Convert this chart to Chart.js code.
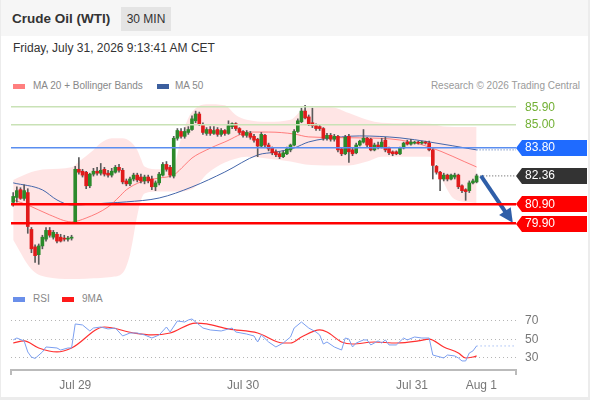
<!DOCTYPE html>
<html>
<head>
<meta charset="utf-8">
<title>Crude Oil (WTI) 30 MIN</title>
<script src="https://cdn.jsdelivr.net/npm/chart.js@4.4.1/dist/chart.umd.min.js"></script>
<style>
  html, body { margin: 0; padding: 0; }
  body { width: 590px; height: 400px; background: #ececec; position: relative; overflow: hidden;
         font-family: "Liberation Sans", Arial, sans-serif; }
  .card { position: absolute; left: 1px; top: 0; width: 587px; height: 397px; background: #fff; }
  .head { position: absolute; left: 1px; top: 0; width: 587px; height: 36px; background: #f6f6f6; }
  .title { position: absolute; left: 12px; top: 11px; font-size: 13.5px; font-weight: bold; color: #333; }
  .badge { position: absolute; left: 121px; top: 7px; width: 50px; height: 24px; line-height: 24px;
           text-align: center; background: #e4e4e4; font-size: 12px; color: #333; }
  .date { position: absolute; left: 13px; top: 41px; font-size: 12px; color: #333; }
  .lg { position: absolute; height: 12px; line-height: 12px; font-size: 10px; color: #888; padding-left: 20px; white-space: nowrap; }
  .lg i { position: absolute; left: 0; top: 4px; width: 12px; height: 5px; }
  .credit { position: absolute; right: 10px; top: 80px; font-size: 10px; color: #9a9a9a; }
  canvas { position: absolute; left: 0; }
</style>
</head>
<body>
<div class="card"></div>
<div class="head"></div>
<div class="title">Crude Oil (WTI)</div>
<div class="badge">30 MIN</div>
<div class="date">Friday, July 31, 2026 9:13:41 AM CET</div>

<div class="lg" style="left:13px;top:80px"><i style="background:#ff7f7f"></i>MA 20 + Bollinger Bands</div>
<div class="lg" style="left:157px;top:80px;padding-left:18px"><i style="background:#3c5f9e"></i>MA 50</div>
<div class="credit">Research © 2026 Trading Central</div>
<canvas id="price" width="590" height="187" style="top:95px"></canvas>

<div class="lg" style="left:13px;top:293px"><i style="background:#6a8fea"></i>RSI</div>
<div class="lg" style="left:62px;top:293px"><i style="background:#ff1a1a"></i>9MA</div>
<canvas id="rsi" width="590" height="93" style="top:305px"></canvas>

<script>
// x axis = bar number (30 min bars), first bar 0
var xMin = -0.6, xMax = 137.8;

// candles
var opens = [81.0, 81.25, 81.65, 81.2, 81.5, 79.6, 78.7, 78.3, 78.75, 79.1,
  79.55, 79.2, 79.35, 79.2, 79.15, 79.1, 79.15, 80.0, 82.7, 82.6,
  82.55, 81.85, 82.45, 82.6, 82.5, 82.7, 82.5, 82.4, 82.55, 82.8,
  82.65, 82.1, 81.95, 82.2, 82.4, 82.3, 82.1, 82.3, 82.2, 81.8,
  82.0, 82.4, 82.95, 82.8, 82.35, 84.3, 84.65, 84.4, 84.6, 84.75,
  85.2, 85.55, 85.0, 84.55, 84.75, 84.55, 84.75, 84.5, 84.7, 84.55,
  84.9, 85.05, 84.8, 84.65, 84.45, 84.55, 84.4, 84.25, 83.9, 84.45,
  83.95, 83.8, 83.6, 83.5, 83.35, 83.5, 83.7, 83.95, 84.65, 85.15,
  85.7, 85.4, 85.1, 84.95, 84.9, 84.8, 84.3, 84.45, 84.25, 84.4,
  83.75, 83.5, 84.4, 83.7, 83.55, 83.95, 84.1, 84.3, 84.25, 83.7,
  83.95, 83.85, 84.2, 83.8, 83.6, 83.6, 83.5, 83.8, 84.1, 84.0,
  84.05, 84.08, 84.05, 84.08, 84.05, 83.7, 82.85, 82.55, 82.2, 82.4,
  82.2, 82.3, 82.4, 81.85, 81.65, 81.6, 82.0, 82.05];
var highs = [81.5, 81.8, 81.75, 81.9, 81.7, 79.7, 78.8, 78.85, 79.3, 79.7,
  79.7, 79.55, 79.45, 79.35, 79.3, 79.25, 79.3, 82.85, 83.3, 82.7,
  82.6, 82.5, 82.75, 82.8, 83.0, 82.8, 82.65, 82.75, 82.9, 82.95,
  82.75, 82.2, 82.3, 82.5, 82.5, 82.45, 82.4, 82.4, 82.35, 82.1,
  82.55, 83.05, 83.1, 82.9, 84.4, 84.8, 84.8, 84.85, 84.9, 85.45,
  85.7, 85.65, 85.1, 84.85, 84.9, 84.9, 84.85, 84.8, 84.75, 85.2,
  85.1, 85.1, 84.85, 84.7, 84.7, 84.65, 84.5, 84.3, 84.6, 84.5,
  84.05, 83.85, 83.7, 83.6, 83.65, 83.85, 84.0, 84.75, 85.3, 85.85,
  86.0, 85.5, 85.85, 85.05, 85.0, 84.85, 84.55, 84.55, 84.5, 84.45,
  83.8, 84.45, 84.5, 83.8, 84.05, 84.2, 84.75, 84.35, 84.3, 84.05,
  84.1, 84.3, 84.35, 83.85, 83.65, 83.65, 83.85, 84.1, 84.2, 84.25,
  84.15, 84.15, 84.15, 84.15, 84.15, 83.75, 82.9, 82.6, 82.5, 82.45,
  82.45, 82.5, 82.45, 81.9, 81.7, 82.1, 82.2, 82.45];
var lows = [80.8, 81.0, 81.15, 81.1, 79.4, 78.4, 77.9, 77.8, 78.6, 79.0,
  79.2, 79.1, 78.9, 78.95, 79.0, 79.0, 79.05, 79.95, 82.45, 82.3,
  81.7, 81.75, 82.35, 82.4, 82.4, 82.35, 82.3, 82.3, 82.5, 82.55,
  81.95, 81.85, 81.85, 82.1, 82.05, 82.0, 81.95, 82.0, 81.65, 81.6,
  81.9, 82.35, 82.6, 82.3, 82.25, 84.2, 84.3, 84.3, 84.5, 84.7,
  85.1, 84.95, 84.5, 84.45, 84.45, 84.5, 84.4, 84.4, 84.45, 84.5,
  84.8, 84.7, 84.5, 84.35, 84.35, 84.25, 84.1, 83.35, 83.85, 83.85,
  83.65, 83.45, 83.35, 83.25, 83.3, 83.45, 83.6, 83.9, 84.6, 85.1,
  85.3, 84.95, 84.85, 84.7, 84.7, 84.2, 84.2, 84.15, 84.15, 83.6,
  83.4, 83.45, 83.05, 83.4, 83.5, 83.9, 84.05, 83.85, 83.65, 83.65,
  83.75, 83.8, 83.6, 83.45, 83.4, 83.45, 83.45, 83.75, 83.95, 83.95,
  84.0, 84.0, 84.0, 84.0, 83.65, 82.2, 82.45, 81.6, 82.1, 82.1,
  82.15, 82.2, 81.7, 81.5, 81.1, 81.5, 81.95, 82.0];
var closes = [81.3, 81.6, 81.2, 81.6, 79.75, 78.6, 78.25, 78.75, 79.2, 79.55,
  79.3, 79.45, 79.0, 79.0, 79.1, 79.15, 79.2, 82.7, 82.55, 82.4,
  81.85, 82.45, 82.6, 82.5, 82.65, 82.45, 82.4, 82.6, 82.8, 82.65,
  82.05, 81.95, 82.2, 82.4, 82.15, 82.1, 82.3, 82.1, 81.8, 82.0,
  82.45, 82.95, 82.7, 82.4, 84.3, 84.7, 84.4, 84.65, 84.75, 85.3,
  85.55, 85.0, 84.6, 84.75, 84.55, 84.7, 84.5, 84.7, 84.55, 84.95,
  85.05, 84.8, 84.6, 84.45, 84.6, 84.35, 84.2, 83.9, 84.5, 83.95,
  83.75, 83.55, 83.45, 83.35, 83.55, 83.75, 83.95, 84.65, 85.2, 85.7,
  85.35, 85.05, 84.95, 84.8, 84.8, 84.3, 84.45, 84.25, 84.4, 83.7,
  83.5, 84.35, 83.6, 83.5, 83.95, 84.15, 84.3, 83.95, 83.7, 83.95,
  83.85, 84.1, 83.7, 83.55, 83.5, 83.5, 83.8, 84.05, 84.0, 84.1,
  84.08, 84.05, 84.08, 84.05, 83.7, 82.9, 82.55, 82.2, 82.4, 82.2,
  82.4, 82.4, 81.8, 81.6, 81.55, 82.0, 82.1, 82.36];

// moving averages and Bollinger Bands, read at these bar numbers
var ma20Idx = [0, 4, 10, 16, 20, 26, 29, 31, 35, 40, 44, 47, 49, 53, 58, 65, 70, 77, 81, 95, 106, 114, 127];
var ma20 = [81.12, 80.86, 80.35, 79.99, 80.19, 80.76, 81.27, 81.64, 82.05, 82.25, 82.41, 82.92, 83.28, 83.70, 84.11, 84.62, 84.62, 84.52, 84.37, 84.32, 84.21, 83.85, 82.82];
var ma50Idx = [0, 8, 12, 16, 26, 31, 40, 49, 58, 67, 72, 77, 81, 90, 95, 106, 114, 127];
var ma50 = [82.0, 81.64, 81.12, 80.86, 80.96, 81.02, 81.22, 81.79, 82.56, 83.44, 83.59, 83.8, 84.11, 84.37, 84.42, 84.32, 84.11, 83.70];
var bandIdx = [0, 5, 9, 16, 18, 22, 24, 27, 30, 32, 34, 35, 36, 40, 44, 46, 48, 50, 53, 58, 61, 64, 70, 76, 80, 87, 92, 97, 101, 114, 116, 118, 121, 127];
var bandUpper = [82.15, 82.56, 82.7, 82.8, 83.1, 83.7, 84.05, 84.3, 84.3, 84.15, 83.7, 83.25, 82.85, 82.7, 82.85, 84.3, 85.35, 85.85, 86.05, 86.0, 85.5, 85.25, 85.15, 85.25, 85.85, 85.9, 85.6, 85.25, 85.1, 85.05, 85.0, 84.9, 84.88, 84.88];
var bandLower = [79.06, 77.55, 77.15, 77.05, 77.05, 77.08, 77.1, 77.15, 77.35, 78.3, 80.3, 81.1, 81.45, 81.55, 81.55, 81.55, 81.62, 81.8, 82.45, 83.05, 83.25, 83.35, 83.25, 83.1, 82.95, 82.9, 82.9, 83.1, 83.35, 83.35, 82.95, 82.0, 81.15, 80.96];

// levels on the right scale
var levels = [85.90, 85.00, 83.80, 82.36, 80.90, 79.90];

// forecast arrow (bar number, price)
var arrowX = [128.2, 136.0];
var arrowY = [82.36, 80.2];

// RSI and its 9 period average
var rsiIdx = [0, 1, 3, 4, 5, 6, 8, 9, 12, 13, 15, 16, 17, 19, 21, 22, 24, 26, 28, 30,
  32, 34, 36, 38, 40, 42, 43, 45, 47, 48, 49, 51, 52, 54, 57, 60, 61, 64, 66, 67,
  68, 70, 72, 74, 76, 77, 79, 81, 83, 84, 85, 86, 88, 90, 91, 92, 93, 94, 96, 97,
  98, 100, 101, 102, 103, 105, 107, 108, 110, 112, 114, 115, 118, 119, 121, 122, 123, 124, 125, 126, 127];
var rsi = [49.5, 51.6, 48.4, 36.5, 31.0, 29.5, 36.5, 41.9, 40.8, 38.6, 40.8, 40.8, 66.8, 65.7, 59.2, 62.4, 63.5, 61.4, 62.4, 53.8,
  57.0, 57.0, 54.9, 51.6, 54.9, 63.5, 58.1, 70.0, 68.9, 71.1, 72.2, 65.7, 62.4, 60.3, 59.2, 62.4, 58.1, 55.9, 53.8, 47.3,
  54.9, 47.3, 41.9, 46.2, 52.7, 62.4, 68.9, 62.4, 58.1, 54.9, 45.1, 47.3, 41.9, 38.6, 51.6, 50.5, 41.9, 46.2, 49.5, 49.5,
  44.1, 48.4, 46.2, 49.5, 44.1, 44.1, 51.6, 49.5, 52.7, 51.6, 51.6, 33.2, 30.0, 33.2, 32.2, 30.0, 26.8, 26.8, 35.4, 37.6, 43.0];
var rsiMaIdx = [0, 3, 7, 12, 16, 25, 33, 38, 43, 50, 53, 59, 67, 74, 76, 79, 84, 86, 90, 93, 99, 105, 111, 114, 118, 122, 124, 126, 127];
var rsiMa = [46.2, 48.4, 40.8, 36.5, 40.8, 63.5, 57.0, 54.9, 57.0, 67.8, 66.8, 61.4, 57.0, 46.2, 46.2, 52.7, 60.3, 58.1, 47.3, 45.1, 47.3, 46.2, 48.4, 50.5, 41.9, 35.4, 30.0, 31.1, 32.2];
var rsiTicks = [70, 50, 30];

// time labels
var dayTicks = [17, 63, 109.3, 128.3];
var dayLabels = ['Jul 29', 'Jul 30', 'Jul 31', 'Aug 1'];

// styles
var UP = '#2b8a2b', DOWN = '#e01b1b';
var levelText = ['#72b034', '#72b034', '#fff', '#fff', '#fff', '#fff'];
var levelLine = ['#c9e2b6', '#c9e2b6', '#5a8ef0', 'rgba(0,0,0,0)', '#ff0000', '#ff0000'];
var levelWidth = [1.5, 1.5, 1.5, 0, 2.5, 2.5];
var levelTag = [null, null, '#1f6bff', '#333333', '#ff0000', '#ff0000'];

Chart.defaults.font.family = '"Liberation Sans", Arial, sans-serif';
Chart.defaults.font.size = 12;

function pts(xs, ys) {
    return xs.map(function (x, i) { return { x: x, y: ys[i] }; });
}

var last = closes.length - 1;

// tag boxes behind the right hand labels
var priceTags = {
    id: 'priceTags',
    beforeDraw: function (chart) {
        var ctx = chart.ctx, y = chart.scales.y, left = chart.chartArea.right;
        levels.forEach(function (v, i) {
            if (!levelTag[i]) return;
            var py = Math.round(y.getPixelForValue(v));
            ctx.save();
            ctx.fillStyle = levelTag[i];
            ctx.beginPath();
            ctx.moveTo(left, py);
            ctx.lineTo(left + 6, py - 8);
            ctx.lineTo(left + 71, py - 8);
            ctx.lineTo(left + 71, py + 8);
            ctx.lineTo(left + 6, py + 8);
            ctx.closePath();
            ctx.fill();
            ctx.restore();
        });
    }
};

// head of the forecast arrow
var arrowHead = {
    id: 'arrowHead',
    afterDatasetsDraw: function (chart) {
        var sx = chart.scales.x, sy = chart.scales.y, ctx = chart.ctx;
        var x0 = sx.getPixelForValue(arrowX[0]), y0 = sy.getPixelForValue(arrowY[0]);
        var x1 = sx.getPixelForValue(arrowX[1]), y1 = sy.getPixelForValue(arrowY[1]);
        var len = Math.hypot(x1 - x0, y1 - y0), ux = (x1 - x0) / len, uy = (y1 - y0) / len;
        var tx = x1 + ux * 6, ty = y1 + uy * 6, bx = x1 - ux * 8, by = y1 - uy * 8;
        ctx.save();
        ctx.fillStyle = '#2f5ea8';
        ctx.beginPath();
        ctx.moveTo(tx, ty);
        ctx.lineTo(bx - uy * 7, by + ux * 7);
        ctx.lineTo(bx + uy * 7, by - ux * 7);
        ctx.closePath();
        ctx.fill();
        ctx.restore();
    }
};

var priceChart = new Chart(document.getElementById('price'), {
    type: 'bar',
    data: {
        datasets: [{
            type: 'line', label: 'MA 20', data: pts(ma20Idx, ma20),
            borderColor: 'rgba(255,90,90,0.75)', borderWidth: 1, pointRadius: 0,
            cubicInterpolationMode: 'monotone', order: 3
        }, {
            type: 'line', label: 'MA 50', data: pts(ma50Idx, ma50),
            borderColor: '#4466aa', borderWidth: 1, pointRadius: 0,
            cubicInterpolationMode: 'monotone', order: 3
        }, {
            type: 'line', label: 'BB up', data: pts(bandIdx, bandUpper),
            borderColor: 'rgba(0,0,0,0)', borderWidth: 0, pointRadius: 0,
            backgroundColor: 'rgba(255,0,0,0.1)', fill: '+1',
            cubicInterpolationMode: 'monotone', order: 9
        }, {
            type: 'line', label: 'BB down', data: pts(bandIdx, bandLower),
            borderColor: 'rgba(0,0,0,0)', borderWidth: 0, pointRadius: 0,
            cubicInterpolationMode: 'monotone', order: 9
        }, {
            label: 'wick',
            data: lows.map(function (l, i) { return { x: i, y: [l, highs[i]] }; }),
            backgroundColor: '#5a5a5a', barThickness: 1, grouped: false, order: 2
        }, {
            label: 'body',
            data: opens.map(function (o, i) { return { x: i, y: [o, closes[i]] }; }),
            backgroundColor: closes.map(function (c, i) { return c >= opens[i] ? UP : DOWN; }),
            barThickness: 3, minBarLength: 1, grouped: false, order: 1
        }, {
            type: 'line', label: 'last', data: pts([last + 1, xMax], [closes[last], closes[last]]),
            borderColor: '#555', borderWidth: 1, borderDash: [1, 2], pointRadius: 0, order: 4
        }, {
            type: 'line', label: 'ma50 last', data: pts([ma50Idx[ma50Idx.length - 1], xMax], [ma50[ma50.length - 1], ma50[ma50.length - 1]]),
            borderColor: '#4466aa', borderWidth: 1, borderDash: [1, 2], pointRadius: 0, order: 4
        }, {
            type: 'line', label: 'arrow', data: pts(arrowX, arrowY),
            borderColor: '#2f5ea8', borderWidth: 4, pointRadius: 0, order: 0
        }]
    },
    options: {
        responsive: false,
        animation: false,
        events: [],
        layout: { padding: { left: 11, right: 0, top: 0, bottom: 0 } },
        plugins: { legend: { display: false }, tooltip: { enabled: false } },
        scales: {
            x: { type: 'linear', min: xMin, max: xMax, offset: false, display: false },
            y: {
                position: 'right', min: 76.89, max: 86.53, beginAtZero: false,
                afterBuildTicks: function (scale) {
                    scale.ticks = levels.map(function (v) { return { value: v }; });
                },
                afterFit: function (scale) {
                    scale.width = 74;
                    scale.paddingTop = 0;
                    scale.paddingBottom = 0;
                },
                border: { display: false },
                grid: {
                    z: 1, drawTicks: false,
                    color: function (c) { return levelLine[c.index]; },
                    lineWidth: function (c) { return levelWidth[c.index]; }
                },
                ticks: {
                    padding: 9,
                    font: { size: 12 },
                    color: function (c) { return levelText[c.index]; },
                    callback: function (v) { return Number(v).toFixed(2); }
                }
            }
        }
    },
    plugins: [priceTags, arrowHead]
});

var rsiChart = new Chart(document.getElementById('rsi'), {
    type: 'line',
    data: {
        datasets: [{
            label: 'RSI', data: pts(rsiIdx, rsi),
            borderColor: '#7b9ff0', borderWidth: 1, pointRadius: 0, tension: 0
        }, {
            label: '9MA', data: pts(rsiMaIdx, rsiMa),
            borderColor: '#ff3030', borderWidth: 1.2, pointRadius: 0,
            cubicInterpolationMode: 'monotone'
        }, {
            label: 'RSI last', data: pts([rsiIdx[rsiIdx.length - 1], xMax], [rsi[rsi.length - 1], rsi[rsi.length - 1]]),
            borderColor: '#7b9ff0', borderWidth: 1, borderDash: [1, 3], pointRadius: 0
        }]
    },
    options: {
        responsive: false,
        animation: false,
        events: [],
        layout: { padding: { left: 11, right: 0, top: 0, bottom: 0 } },
        plugins: { legend: { display: false }, tooltip: { enabled: false } },
        scales: {
            x: {
                type: 'linear', min: xMin, max: xMax, offset: false,
                afterBuildTicks: function (scale) {
                    scale.ticks = [xMin].concat(dayTicks, [xMax]).map(function (v) { return { value: v }; });
                },
                afterFit: function (scale) {
                    scale.height = 28;
                    scale.paddingLeft = 0;
                    scale.paddingRight = 0;
                },
                border: { color: '#bbbbbb', width: 2 },
                grid: {
                    drawOnChartArea: false, drawTicks: true, tickLength: 5, lineWidth: 2,
                    color: function (c) { return (c.index === 0 || c.index === dayTicks.length + 1) ? '#bbbbbb' : 'rgba(0,0,0,0)'; }
                },
                ticks: {
                    autoSkip: false, maxRotation: 0, padding: 3, color: '#777',
                    callback: function (v, i) { return (i === 0 || i === dayTicks.length + 1) ? '' : dayLabels[i - 1]; }
                }
            },
            y: {
                position: 'right', min: 17.0, max: 87.3,
                afterBuildTicks: function (scale) {
                    scale.ticks = rsiTicks.map(function (v) { return { value: v }; });
                },
                afterFit: function (scale) {
                    scale.width = 74;
                    scale.paddingTop = 0;
                    scale.paddingBottom = 0;
                },
                border: { display: false, dash: [1, 3] },
                grid: { drawTicks: false, color: '#b5b5b5', lineWidth: 1 },
                ticks: { padding: 9, color: '#777' }
            }
        }
    }
});
</script>
</body>
</html>
